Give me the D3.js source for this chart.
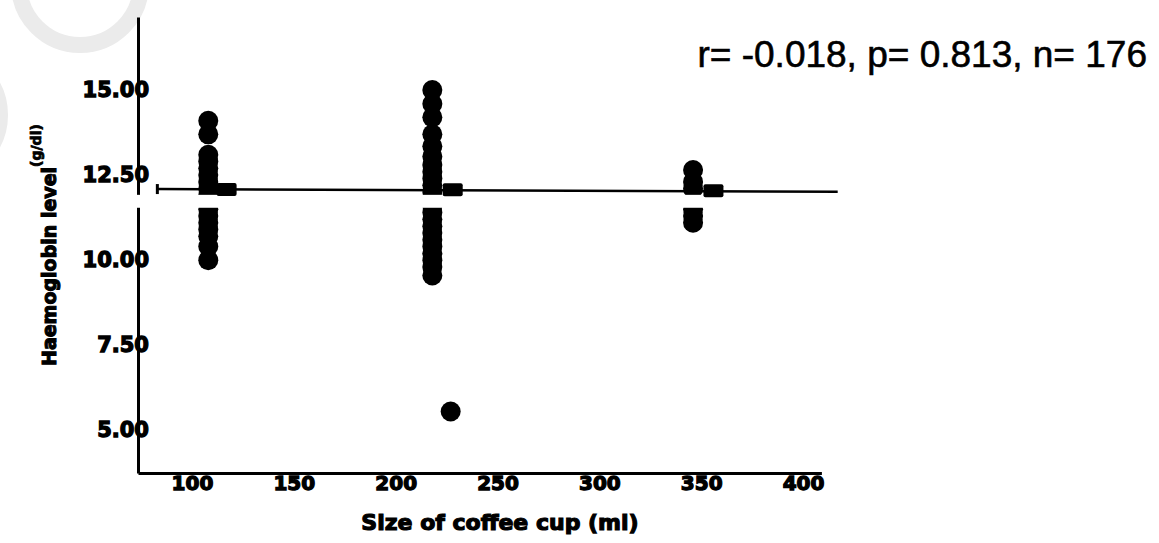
<!DOCTYPE html>
<html>
<head>
<meta charset="utf-8">
<script src="https://cdn.jsdelivr.net/npm/d3@7"></script>
<style>
  body { margin: 0; background: #fff; }
  svg { display: block; }
</style>
</head>
<body>
<script>
// cup sizes (ml) of the three dot columns
var cupSizes = [108, 218, 346];
// haemoglobin (g/dl)
var hbCup110 = [14.1, 13.7, 13.1, 12.9, 12.7, 12.5, 12.3, 12.1, 11.9, 11.7, 11.5, 11.3, 11.1, 10.9, 10.7, 10.4, 10.0];
var hbCup220 = [15.0, 14.6, 14.2, 13.7, 13.35, 13.05, 12.8, 12.6, 12.4, 12.2, 12.0, 11.8, 11.6, 11.4, 11.2, 11.0, 10.8, 10.6, 10.4, 10.2, 10.0, 9.8, 9.55];
var hbCup350 = [12.65, 12.3, 12.1, 11.5, 11.3, 11.1];
// lone low reading
var outlierCup = [227];
var outlierHb = [5.55];
// squares sitting on the fit line
var markerCups = [117, 228, 356];
var markerHb = [12.08, 12.07, 12.04];
// fit line ends
var fitCups = [83, 417];
var fitHb = [12.09, 12.01];
var xTicks = [100, 150, 200, 250, 300, 350, 400];
var yTicks = [5, 7.5, 10, 12.5, 15];
var statsText = 'r= -0.018, p= 0.813, n= 176';
// white scan band across the plot
var bandHb = [11.92, 11.54];

var width = 1159;
var height = 543;
var boldFont = '"DejaVu Sans", sans-serif';

var svg = d3.select('body').append('svg').attr('width', width).attr('height', height);

var x = d3.scaleLinear().domain([73.5, 409]).range([138, 821.4]);
var y = d3.scaleLinear().domain([3.74, 17.15]).range([473, 17]);

// heavy scanned lettering
function heavy(sel, size, sw) {
  sel.attr('font-family', boldFont).attr('font-size', size).attr('font-weight', 'bold')
    .attr('fill', '#000').attr('stroke', '#000').attr('stroke-width', sw);
}

// faint grey rings left over from the scan
svg.append('circle').attr('cx', 80).attr('cy', -16).attr('r', 61)
  .attr('fill', 'none').attr('stroke', '#ebebeb').attr('stroke-width', 16);
svg.append('circle').attr('cx', -60).attr('cy', 115).attr('r', 62)
  .attr('fill', 'none').attr('stroke', '#ebebeb').attr('stroke-width', 12);

// axes
var xAxis = svg.append('g')
  .attr('transform', 'translate(0,473)')
  .call(d3.axisBottom(x).tickValues(xTicks).tickSize(0).tickSizeOuter(0).tickPadding(3).tickFormat(d3.format('d')));
xAxis.select('.domain').attr('stroke', '#000').attr('stroke-width', 3);
heavy(xAxis.selectAll('text'), 20, 1.3);

var yAxis = svg.append('g')
  .attr('transform', 'translate(138,0)')
  .call(d3.axisLeft(y).tickValues(yTicks).tickSize(0).tickSizeOuter(0).tickPadding(-11).tickFormat(d3.format('.2f')));
yAxis.select('.domain').attr('stroke', '#000').attr('stroke-width', 3);
heavy(yAxis.selectAll('text'), 21, 1.3);

// dot columns
var columns = [hbCup110, hbCup220, hbCup350];
var points = [];
columns.forEach(function (vals, i) {
  vals.forEach(function (v) { points.push({ cup: cupSizes[i], hb: v }); });
});
outlierHb.forEach(function (v, i) { points.push({ cup: outlierCup[i], hb: v }); });

svg.append('g')
  .selectAll('circle')
  .data(points)
  .enter()
  .append('circle')
  .attr('cx', function (d) { return x(d.cup); })
  .attr('cy', function (d) { return y(d.hb); })
  .attr('r', 10)
  .attr('fill', '#000');

// the white band cuts dots and axis alike
svg.append('rect')
  .attr('x', 120).attr('width', 740)
  .attr('y', y(bandHb[0])).attr('height', y(bandHb[1]) - y(bandHb[0]))
  .attr('fill', '#fff');

// fit line with a small cap on its left end
var fit = fitCups.map(function (c, i) { return [x(c), y(fitHb[i])]; });
svg.append('path')
  .attr('d', d3.line()(fit))
  .attr('stroke', '#000').attr('stroke-width', 2.5).attr('fill', 'none');
svg.append('line')
  .attr('x1', fit[0][0]).attr('x2', fit[0][0])
  .attr('y1', fit[0][1] - 5).attr('y2', fit[0][1] + 5)
  .attr('stroke', '#000').attr('stroke-width', 3);

svg.append('g')
  .selectAll('rect')
  .data(markerCups)
  .enter()
  .append('rect')
  .attr('x', function (d) { return x(d) - 10; })
  .attr('y', function (d, i) { return y(markerHb[i]) - 6.5; })
  .attr('width', 20)
  .attr('height', 13)
  .attr('rx', 2)
  .attr('fill', '#000');

// titles
heavy(svg.append('text')
  .attr('x', 500).attr('y', 530)
  .attr('text-anchor', 'middle')
  .text('Size of coffee cup (ml)'), 22, 1.2);

var yTitle = svg.append('text')
  .attr('transform', 'translate(56,366) rotate(-90)')
  .attr('text-anchor', 'start');
heavy(yTitle, 19, 1.1);
yTitle.append('tspan').text('Haemoglobin level');
yTitle.append('tspan').attr('dy', -15).attr('font-size', 14).attr('stroke-width', 0.8).text('(g/dl)');

svg.append('text')
  .attr('x', 1147).attr('y', 67)
  .attr('text-anchor', 'end')
  .attr('font-family', '"Liberation Sans", Arial, sans-serif').attr('font-size', 37)
  .attr('stroke', '#000').attr('stroke-width', 0.6)
  .text(statsText);
</script>
</body>
</html>
